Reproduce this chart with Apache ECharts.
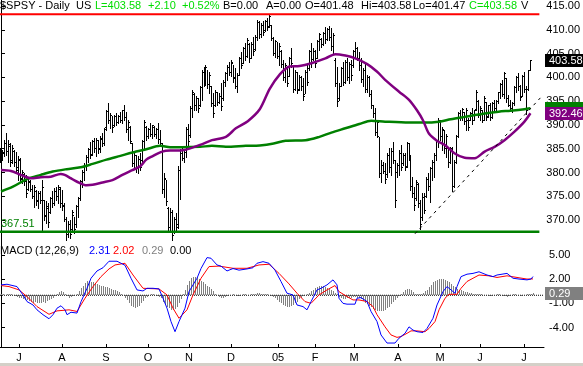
<!DOCTYPE html>
<html><head><meta charset="utf-8">
<script src="https://cdn.jsdelivr.net/npm/echarts@6/dist/echarts.min.js"></script>
<style>html,body{margin:0;padding:0;background:#fff;overflow:hidden}#c{width:583px;height:366px}</style>
</head><body><div id="c"></div>
<script>
// ---------- DATA ----------
const highs=[385.1,384.8,386.9,388.3,386.9,386.2,385.8,384.8,384.4,383.4,
383.0,380.5,379.9,379.5,378.8,378.4,377.4,377.4,376.3,376.0,
376.0,378.4,374.2,373.9,373.5,374.9,376.0,376.7,377.0,377.4,
377.0,376.3,373.5,370.7,369.7,370.0,372.1,370.7,373.2,374.9,
378.4,380.5,382.0,383.7,385.1,386.5,386.9,387.2,387.2,386.9,
387.6,388.3,389.3,393.2,394.6,392.5,391.8,392.1,392.5,392.1,
392.8,393.2,394.2,392.8,391.1,389.7,386.2,384.1,383.7,383.4,
384.1,386.9,391.1,389.7,389.3,390.4,390.0,389.7,389.3,390.4,
389.0,386.2,379.9,378.4,372.8,372.5,372.1,370.7,371.4,381.3,
385.0,385.1,384.7,389.6,390.3,393.9,397.4,396.7,396.0,395.6,
398.1,401.6,402.3,402.6,401.6,401.2,398.1,396.7,397.4,397.0,
396.7,398.8,399.5,401.2,402.6,403.3,403.7,402.6,401.9,400.9,
404.4,405.4,406.5,407.2,408.2,407.2,407.5,408.6,408.9,412.1,
411.8,411.4,411.8,412.1,412.5,413.3,411.1,408.6,407.9,407.5,
407.2,405.8,403.7,403.0,402.3,404.4,406.1,402.3,401.6,401.2,
400.5,400.2,399.8,401.6,402.6,405.8,407.2,406.1,405.8,407.9,
409.3,408.2,409.6,410.7,410.4,410.8,410.4,409.3,404.0,402.3,
398.8,402.3,403.3,403.7,404.0,403.3,403.7,405.8,407.5,406.5,
405.4,404.0,401.9,403.0,400.5,400.2,397.4,394.2,393.5,391.0,
387.5,382.6,382.3,381.9,384.0,385.1,385.1,386.5,382.6,381.9,
384.7,385.8,384.0,384.0,386.5,386.1,383.7,379.1,377.0,378.4,
377.7,374.2,375.6,375.6,379.1,379.8,381.2,382.6,384.0,386.8,
391.4,391.0,389.6,388.9,388.2,385.4,385.4,385.4,382.6,387.9,
392.8,393.1,393.5,392.8,393.5,391.4,392.8,393.5,393.1,397.4,
395.3,393.9,393.1,396.1,394.9,394.2,394.6,394.9,395.3,395.3,
397.0,398.8,399.5,401.1,399.8,396.3,395.3,394.9,398.1,400.2,
400.9,398.4,400.5,401.2,398.1,401.6,403.58];
const lows=[382.3,382.7,383.4,383.7,382.3,381.3,382.0,381.3,379.9,378.4,
378.1,377.7,377.4,374.9,376.3,376.0,374.6,372.8,373.2,372.5,
373.5,367.6,370.0,369.3,368.6,371.4,372.8,373.2,374.2,373.5,
372.8,372.1,369.7,365.8,366.5,366.2,367.9,367.2,368.6,370.7,
374.2,377.0,378.4,380.5,382.3,383.0,383.7,384.4,383.4,384.1,
384.4,385.5,385.8,389.0,390.4,389.3,388.6,389.7,390.0,390.4,
390.7,390.4,391.1,388.6,386.9,386.2,381.3,380.9,380.2,379.9,
380.5,382.3,384.8,386.9,387.2,387.6,387.2,387.6,387.2,386.2,
385.8,375.6,374.9,373.2,367.9,367.6,365.8,367.2,367.9,368.3,
374.5,382.6,382.3,383.3,385.4,387.5,391.7,393.2,393.2,392.8,
393.9,395.3,398.1,398.4,397.7,396.7,393.9,391.7,393.9,394.2,
394.6,393.2,395.3,398.1,399.5,400.5,400.2,399.1,397.7,397.0,
400.5,401.9,403.0,403.7,404.4,403.3,404.0,404.7,405.8,407.9,
408.2,408.6,408.9,409.7,410.0,410.7,407.9,404.7,404.4,404.0,
402.6,402.3,399.5,399.1,398.1,400.2,402.3,397.0,397.4,396.7,
397.4,397.4,395.3,396.7,398.4,401.6,402.3,403.7,402.3,404.0,
405.8,406.5,406.8,407.2,407.9,407.9,405.8,405.1,398.1,393.9,
395.3,398.1,398.4,398.8,399.5,398.8,399.5,402.3,404.4,403.7,
401.6,399.1,398.1,397.0,397.0,396.0,393.5,391.7,387.9,387.5,
379.1,378.1,379.8,377.7,379.1,380.2,379.5,381.9,372.8,379.1,
379.5,380.5,381.6,380.5,381.2,382.6,376.3,374.9,372.1,374.2,
372.8,368.2,370.0,371.4,374.9,376.3,373.8,378.4,379.1,382.6,
385.4,386.8,384.7,384.0,383.3,381.2,381.9,376.0,377.0,381.9,
387.5,391.0,391.0,390.3,388.9,388.9,391.0,390.3,391.0,393.1,
391.7,391.0,390.7,391.0,391.0,391.7,391.0,391.4,393.1,392.8,
394.6,395.6,396.0,395.6,394.9,393.9,393.1,392.8,394.2,397.0,
397.4,395.3,396.0,397.0,392.4,397.4,401.47];
const opens=[384.0,383.0,384.0,386.0,384.5,385.5,382.5,384.5,382.0,381.0,
382.5,378.5,379.5,378.0,376.5,377.8,376.5,375.0,376.0,374.0,
375.5,374.0,374.0,371.0,372.5,371.5,374.5,373.5,376.0,375.0,
376.5,373.5,373.0,370.2,367.0,369.0,368.0,371.0,369.0,372.8,
374.5,378.0,380.0,381.5,383.2,384.8,383.8,386.5,385.0,386.8,
385.0,387.0,386.0,389.5,392.8,391.0,392.0,389.8,391.8,390.5,
391.8,391.0,393.0,391.5,389.0,389.5,386.0,381.8,383.5,380.8,
382.8,382.5,386.5,389.5,387.5,389.0,388.0,389.5,388.0,389.0,
387.0,386.0,376.5,378.5,372.5,368.5,371.5,367.5,370.0,369.0,
380.5,384.0,383.0,384.2,389.0,387.8,393.5,396.5,394.0,395.5,
394.0,397.8,401.0,399.0,402.0,398.5,398.0,394.5,394.0,396.8,
394.8,396.0,395.5,399.0,400.8,402.0,401.0,403.0,400.0,398.2,
400.5,404.0,403.0,406.0,404.5,407.0,404.0,407.0,405.8,408.5,
411.5,409.0,411.0,409.8,411.8,410.8,411.0,408.2,405.0,407.5,
404.5,405.5,402.8,400.0,402.0,400.2,404.0,402.3,397.5,401.0,
397.5,400.0,398.0,396.5,401.0,401.8,405.5,403.8,405.5,404.0,
407.5,408.0,407.0,409.2,408.0,410.0,408.5,406.5,403.5,398.8,
395.5,398.2,401.8,399.0,403.2,400.0,402.8,402.5,405.5,406.0,
404.0,402.5,399.5,401.5,397.5,400.0,396.5,394.0,392.5,388.5,
387.5,379.8,381.5,380.2,379.5,383.5,381.0,384.5,382.5,380.0,
381.5,384.0,381.8,383.5,381.2,386.0,383.5,377.0,375.5,374.5,
377.5,373.5,370.5,374.8,375.0,378.5,377.0,380.8,382.0,383.5,
386.5,391.0,387.5,388.8,385.0,385.0,382.0,385.0,377.0,382.0,
387.5,392.5,391.5,392.6,390.8,391.0,391.0,392.5,391.0,393.2,
395.0,392.0,393.0,391.0,394.8,391.8,394.0,391.5,394.5,393.5,
395.0,396.8,398.5,396.5,399.8,395.5,394.2,393.5,394.5,397.8,
400.0,398.0,396.0,400.2,397.5,397.5,401.48];
const closes=[383.0,384.2,386.2,384.5,385.8,382.0,385.0,382.0,380.5,382.8,
378.8,380.0,378.0,375.5,378.0,376.5,375.0,376.8,373.8,375.5,
374.0,376.8,370.8,372.8,369.5,374.5,373.5,376.0,375.0,376.8,
373.5,372.8,370.2,367.0,369.0,367.0,371.5,368.0,372.8,374.5,
378.0,380.0,381.5,383.2,384.8,383.5,386.5,385.0,386.8,384.8,
387.2,386.0,389.0,392.8,391.0,392.0,389.5,391.8,390.5,391.8,
391.0,393.0,391.5,389.0,390.5,386.5,381.8,383.5,380.8,382.8,
381.0,386.5,390.5,387.5,389.0,388.0,389.8,388.0,389.0,387.0,
386.2,376.5,378.8,373.8,368.5,371.5,366.8,370.0,368.5,380.5,
384.0,383.0,384.2,389.0,386.5,393.5,396.8,394.0,395.5,393.5,
397.8,401.0,399.0,402.0,398.5,400.5,394.5,392.5,396.8,394.8,
396.0,393.8,399.0,400.8,402.0,401.0,403.2,399.8,398.2,400.5,
404.0,402.5,406.0,404.5,407.8,404.0,407.0,405.5,408.5,411.5,
409.0,411.0,409.5,411.8,410.5,412.8,408.2,405.0,407.5,404.5,
406.5,402.8,400.0,402.5,398.8,404.0,403.0,397.5,401.0,397.2,
400.0,398.0,396.0,401.0,399.0,405.5,403.0,405.5,403.0,407.5,
409.0,407.0,409.2,408.0,410.0,408.5,406.5,408.8,398.8,395.0,
398.0,401.8,399.0,403.2,400.0,402.8,400.5,405.5,406.0,404.0,
402.5,399.5,401.5,397.5,400.0,396.5,394.0,392.5,388.5,390.5,
379.8,381.5,380.2,378.5,383.5,381.0,384.5,382.5,374.0,381.5,
384.0,381.0,383.5,381.0,386.0,383.5,377.0,375.5,373.0,377.8,
373.5,369.0,374.8,372.0,378.5,377.0,380.8,382.0,383.5,386.5,
391.0,387.5,389.0,385.0,387.5,382.0,385.0,377.0,382.0,387.5,
392.5,391.5,393.2,390.8,393.0,389.5,392.5,391.0,393.0,396.8,
392.0,393.5,391.0,395.5,391.5,394.0,391.5,394.5,393.5,395.0,
396.8,398.5,396.5,400.8,395.5,394.2,393.5,394.5,397.8,400.0,
398.0,395.8,400.2,397.5,393.0,401.4,403.58];

// 50-day (purple) and 200-day (green) moving averages, [bar, value]
const ma50=[[0,380.5],[5,380.3],[10,379.5],[15,378.8],[20,379.0],[25,379.1],[30,379.7],[32,379.5],[35,378.8],[38,378.1],[43,377.3],[46,377.4],[51,377.9],[56,378.4],[61,379.5],[66,380.5],[70,381.3],[73,382.7],[76,383.4],[81,384.4],[85,384.6],[90,384.6],[100,385.8],[106,386.8],[113,387.5],[118,389.3],[124,390.8],[130,393.3],[135,397.6],[140,400.6],[145,402.3],[150,402.4],[156,403.0],[163,404.0],[168,404.9],[173,404.6],[178,404.0],[184,402.8],[189,401.2],[193,399.5],[200,397.0],[205,395.3],[209,393.1],[212,391.0],[215,388.2],[219,386.7],[223,385.8],[228,384.0],[233,383.1],[238,383.0],[243,384.4],[248,385.4],[253,386.8],[258,388.6],[263,390.7],[266,392.46]];
const ma200=[[0,376.0],[6,377.0],[13,378.6],[20,379.5],[26,380.2],[33,380.7],[40,381.1],[46,381.8],[53,382.7],[60,383.5],[66,384.2],[73,384.9],[80,385.6],[85,385.3],[91,385.3],[100,385.4],[106,385.6],[113,385.4],[123,385.6],[130,385.7],[137,386.1],[143,386.7],[153,386.8],[160,387.5],[166,388.4],[173,389.3],[180,390.2],[186,390.9],[193,390.7],[205,390.5],[213,390.5],[220,390.7],[226,391.2],[233,391.7],[243,392.4],[250,392.8],[256,393.0],[263,393.3],[266,393.5]];

// MACD (12,26,9)
const macdLine=[[0,1.28],[3,1.36],[8,1.07],[11,0.04],[13,-0.78],[16,-1.2],[18,-1.8],[21,-2.4],[24,-2.9],[26,-2.4],[28,-1.6],[30,-1.3],[32,-1.8],[33,-2.4],[35,-2.1],[38,-2.2],[40,-0.8],[43,0.86],[45,2.1],[48,3.0],[51,3.4],[54,4.2],[58,4.2],[62,3.7],[65,2.1],[68,0.66],[71,0.53],[73,0.86],[76,0.86],[79,0.78],[81,-0.37],[83,-1.6],[85,-3.25],[87,-4.5],[89,-3.25],[92,-1.6],[94,0.45],[98,2.1],[100,3.3],[103,4.65],[105,4.57],[108,3.74],[110,3.6],[113,3.0],[116,3.3],[119,3.1],[123,3.25],[126,3.4],[128,3.95],[131,4.15],[134,3.95],[137,3.1],[140,1.7],[143,0.25],[146,0.04],[148,-1.2],[151,-1.4],[153,-1.8],[155,-0.8],[158,0.66],[160,0.86],[163,1.28],[166,1.9],[168,1.28],[169,-0.37],[171,-1.0],[173,-1.1],[177,-1.1],[178,-0.37],[180,-0.29],[183,-0.78],[185,-2.0],[188,-3.25],[190,-4.9],[193,-5.9],[194,-6.1],[197,-5.9],[199,-5.3],[202,-4.7],[204,-3.9],[206,-4.3],[208,-4.5],[211,-4.6],[213,-4.1],[216,-2.84],[218,-1.2],[221,0.45],[223,1.07],[225,0.66],[227,0.25],[228,1.07],[230,2.3],[233,2.6],[236,2.7],[239,2.9],[243,2.5],[246,2.3],[248,2.5],[253,2.7],[256,2.1],[259,2.0],[263,1.9],[265,2.0],[266,2.31]];
const signalLine=[[0,1.2],[4,1.07],[9,0.66],[13,-0.16],[18,-1.4],[24,-2.35],[28,-1.93],[34,-1.8],[38,-2.0],[42,-0.37],[46,1.07],[50,2.3],[54,3.25],[57,3.74],[62,3.95],[66,2.5],[71,0.86],[79,0.78],[83,0.04],[86,-1.6],[89,-2.84],[93,-1.8],[96,0.04],[100,2.1],[104,3.54],[109,3.6],[116,3.33],[123,3.33],[129,3.74],[134,3.83],[139,2.7],[144,1.4],[148,0.25],[152,-0.78],[155,-1.0],[159,0.04],[163,0.66],[167,1.2],[169,0.45],[173,-0.16],[176,-0.58],[179,-0.58],[183,-0.78],[186,-1.4],[188,-2.4],[192,-3.9],[195,-4.9],[198,-5.2],[200,-5.1],[203,-4.7],[205,-4.4],[208,-4.4],[212,-4.5],[214,-4.1],[217,-3.25],[219,-1.8],[222,-0.37],[224,0.12],[228,0.12],[230,0.86],[233,1.7],[236,2.1],[239,2.5],[244,2.4],[248,2.2],[253,2.4],[258,2.2],[263,2.0],[266,2.02]];
const histogram=[0.1,0.1,0.0,0.1,0.2,0.1,0.0,-0.1,-0.2,
-0.3,-0.4,-0.5,-0.6,-0.6,-0.7,-0.8,-0.9,-0.8,-0.9,-1.0,-0.9,-0.8,-0.9,-0.7,-0.6,-0.5,-0.3,
-0.1,0.2,0.4,0.5,0.4,
0.1,-0.1,-0.3,-0.2,-0.1,0.0,0.2,0.5,
0.9,1.2,1.5,1.7,1.7,1.6,1.6,1.5,1.4,1.3,1.2,
1.1,1.0,1.0,0.9,0.8,0.7,0.6,0.5,0.4,0.2,
0.0,-0.3,-0.6,-1.0,-1.3,-1.5,-1.6,-1.5,-1.3,-1.0,-0.7,-0.4,-0.2,0.0,
0.1,0.1,0.0,-0.1,-0.2,-0.4,
-0.8,-1.1,-1.4,-1.6,-1.8,-1.8,-1.7,-1.4,-1.0,-0.5,
0.1,0.7,1.3,1.8,2.1,2.3,2.3,2.2,2.0,1.8,1.6,1.4,1.2,1.0,0.8,0.5,
0.2,0.0,-0.2,-0.3,-0.3,-0.2,-0.1,0.0,0.0,0.1,0.0,-0.1,-0.1,0.0,0.1,0.1,0.0,0.0,0.1,0.2,0.2,0.3,0.3,0.2,0.2,0.1,0.1,0.0,-0.1,-0.2,
-0.4,-0.6,-0.8,-1.0,-1.2,-1.3,-1.4,-1.4,-1.3,-1.2,-1.0,-0.8,-0.5,-0.3,
-0.1,0.0,0.1,0.3,0.5,
0.7,0.9,1.0,1.1,1.1,1.1,1.0,0.9,0.8,0.6,0.5,0.3,0.1,
-0.2,-0.4,-0.5,-0.5,
-0.4,-0.3,-0.3,-0.2,-0.2,-0.3,-0.4,-0.5,-0.7,-0.9,-1.1,
-1.3,-1.5,-1.7,-1.8,-1.9,-2.0,-2.0,-1.9,-1.8,-1.6,-1.4,-1.1,-0.8,-0.6,-0.3,-0.1,
0.2,0.4,0.6,0.8,0.8,0.6,0.4,
0.2,0.1,0.1,0.2,0.3,0.5,
0.7,1.0,1.3,1.6,1.8,1.9,2.0,2.0,2.0,1.9,1.8,1.6,1.4,1.2,1.0,0.8,0.7,0.6,0.5,
0.4,0.4,0.3,0.3,0.2,0.2,0.1,0.1,0.1,0.0,
0.0,0.0,-0.1,-0.1,0.0,0.0,0.1,0.1,0.0,-0.1,-0.1,-0.2,-0.1,0.0,0.1,0.1,0.0,0.0,-0.1,0.0,0.0,0.1,0.1,0.2,0.29];

// Axis labels
const monthLabels=['J','A','S','O','N','D','05','F','M','A','M','J','J'];
const monthPos=[9,30.5,52.5,73.5,94,115,138.5,157,176.5,198.5,219.5,239.5,261.5];
const macdTicks=[5,2,-1,-4];

// Reference lines / annotations
const resistanceLevel=413.3;
const supportLevel=367.51;
const trendLine=[[208,367.1],[271,395.7]];

// Header values
const symbolName='$SPSY - Daily', exchange='US';
const lastVal='403.58', changeVal='+2.10', changePct='+0.52%';
const bidVal='0.00', askVal='0.00', openVal='401.48', highVal='403.58', lowVal='401.47', closeVal='403.58';
const macdVals=['2.31','2.02','0.29','0.00'];
const lastClose=403.58, lastMa50=392.46, lastMa200=393.5, lastHist=0.29;

// ---------- CHART ----------
const FONT='"Liberation Sans", Arial, sans-serif';
const chart=echarts.init(document.getElementById('c'),null,{renderer:'canvas'});
const ohlc=highs.map((h,i)=>[i,opens[i],highs[i],lows[i],closes[i]]);
const hist=histogram.map((v,i)=>[i,v]);

function px(v){return Math.floor(v)+0.5;}
function renderOHLC(params,api){
  const i=api.value(0);
  const x=px(api.coord([i,api.value(2)])[0]);
  const yH=Math.round(api.coord([i,api.value(2)])[1]);
  const yL=Math.round(api.coord([i,api.value(3)])[1]);
  const yO=px(api.coord([i,api.value(1)])[1]);
  const yC=px(api.coord([i,api.value(4)])[1]);
  const st={stroke:'#000',lineWidth:1};
  return {type:'group',children:[
    {type:'line',shape:{x1:x,y1:yH,x2:x,y2:yL+1},style:st},
    {type:'line',shape:{x1:x-1.5,y1:yO,x2:x-0.5,y2:yO},style:st},
    {type:'line',shape:{x1:x+0.5,y1:yC,x2:x+1.5,y2:yC},style:st}
  ]};
}
function renderHist(params,api){
  const i=api.value(0), v=api.value(1);
  const p0=api.coord([i,0]), p1=api.coord([i,v]);
  const x=px(p0[0]);
  return {type:'line',shape:{x1:x,y1:Math.round(p0[1]),x2:x,y2:Math.round(p1[1])},style:{stroke:'#808080',lineWidth:1}};
}

const option={
  animation:false,
  backgroundColor:'#ffffff',
  textStyle:{fontFamily:FONT},
  grid:[
    {left:0,top:0,width:544,height:243.75},
    {left:0,top:243.75,width:544,height:103.25}
  ],
  xAxis:[
    {type:'value',gridIndex:0,min:-0.5,max:271.5,show:false},
    {type:'value',gridIndex:1,min:-0.5,max:271.5,position:'bottom',
      axisLine:{show:true,onZero:false,lineStyle:{color:'#000',width:1}},
      splitLine:{show:false},
      axisTick:{show:true,inside:true,length:3,customValues:monthPos,lineStyle:{color:'#000'}},
      axisLabel:{customValues:monthPos,formatter:(v)=>{const k=monthPos.indexOf(v);return k>=0?monthLabels[k]:'';},color:'#000',fontSize:11,fontFamily:FONT,margin:5}}
  ],
  yAxis:[
    {type:'value',gridIndex:0,position:'right',min:365,max:416.3,interval:5,
      axisLine:{show:true,lineStyle:{color:'#000',width:1}},
      axisTick:{show:true,length:4,lineStyle:{color:'#000'}},
      splitLine:{show:false},
      axisLabel:{formatter:(v)=>v.toFixed(2),color:'#000',fontSize:11,fontFamily:FONT,margin:5,showMinLabel:false,showMaxLabel:false}},
    {type:'value',gridIndex:1,position:'right',min:-6.39,max:6.36,
      axisLine:{show:true,lineStyle:{color:'#000',width:1}},
      axisTick:{show:true,length:4,customValues:macdTicks,lineStyle:{color:'#000'}},
      splitLine:{show:false},
      axisLabel:{customValues:macdTicks,formatter:(v)=>v.toFixed(2),color:'#000',fontSize:11,fontFamily:FONT,margin:5}}
  ],
  series:[
    {type:'custom',name:'price',xAxisIndex:0,yAxisIndex:0,data:ohlc,renderItem:renderOHLC,encode:{x:0,y:[1,2,3,4]},z:2},
    {type:'line',name:'ma200',xAxisIndex:0,yAxisIndex:0,data:ma200,showSymbol:false,smooth:0.3,lineStyle:{color:'#008000',width:2.5},z:3},
    {type:'line',name:'ma50',xAxisIndex:0,yAxisIndex:0,data:ma50,showSymbol:false,smooth:0.3,lineStyle:{color:'#800080',width:2.5},z:3},
    {type:'line',name:'resistance',xAxisIndex:0,yAxisIndex:0,data:[[-0.5,resistanceLevel],[270.5,resistanceLevel]],showSymbol:false,lineStyle:{color:'#ff0000',width:2},z:4},
    {type:'line',name:'support',xAxisIndex:0,yAxisIndex:0,data:[[-0.5,supportLevel],[270.5,supportLevel]],showSymbol:false,lineStyle:{color:'#008000',width:2.5},z:4},
    {type:'line',name:'trend',xAxisIndex:0,yAxisIndex:0,data:trendLine,showSymbol:false,lineStyle:{color:'#000',width:1,type:[3,4]},z:4},
    {type:'line',name:'zero',xAxisIndex:1,yAxisIndex:1,data:[[-0.5,0],[271.5,0]],showSymbol:false,lineStyle:{color:'#000',width:1,type:[1,1]},z:2},
    {type:'custom',name:'hist',xAxisIndex:1,yAxisIndex:1,data:hist,renderItem:renderHist,encode:{x:0,y:1},z:1},
    {type:'line',name:'signal',xAxisIndex:1,yAxisIndex:1,data:signalLine,showSymbol:false,lineStyle:{color:'#ff0000',width:1},z:3},
    {type:'line',name:'macd',xAxisIndex:1,yAxisIndex:1,data:macdLine,showSymbol:false,lineStyle:{color:'#0000ff',width:1},z:4}
  ]
};
chart.setOption(option);

function T(text,x,y,color){return {type:'text',x:x,y:y,z:100,style:{text:text,fill:color||'#000',fontSize:11,fontFamily:FONT,verticalAlign:'middle',align:'left'}};}
function tag(val,text,axis,bg,fg){
  const y=chart.convertToPixel({yAxisIndex:axis},val);
  return [
    {type:'rect',shape:{x:545,y:Math.round(y)-6,width:38,height:13},style:{fill:bg},z:90},
    {type:'text',x:549,y:Math.round(y)+0.5,z:91,style:{text:text,fill:fg,fontSize:11,fontFamily:FONT,verticalAlign:'middle'}}
  ];
}
const G='#00dd00';
const yHead=6;
const ySup=chart.convertToPixel({yAxisIndex:0},supportLevel);
const graphics=[
  T(symbolName,0,yHead), T(exchange,76,yHead), T('L='+lastVal,95,yHead,G), T(changeVal,148,yHead,G), T(changePct,182,yHead,G),
  T('B='+bidVal,223,yHead), T('A='+askVal,266,yHead), T('O='+openVal,305,yHead), T('Hi='+highVal,361,yHead), T('Lo='+lowVal,413,yHead),
  T('C='+closeVal,469,yHead,G), T('V',521,yHead),
  T(supportLevel.toFixed(2),1,ySup-8,'#008000'),
  T('MACD',0,251), T('(12,26,9)',35,251), T(macdVals[0],89,251,'#0000ff'), T(macdVals[1],113,251,'#ff0000'), T(macdVals[2],142,251,'#808080'), T(macdVals[3],170,251),
  ...tag(lastClose,lastClose.toFixed(2),0,'#000','#fff'),
  ...tag(lastMa200,'',0,'#008000','#fff'),
  ...tag(lastMa50,lastMa50.toFixed(2),0,'#800080','#fff'),
  ...tag(lastHist,lastHist.toFixed(2),1,'#808080','#fff'),
  {type:'rect',shape:{x:0,y:363,width:583,height:3},style:{fill:'#d4d0c8'},z:50}
];
chart.setOption({graphic:graphics});
</script>
</body></html>
